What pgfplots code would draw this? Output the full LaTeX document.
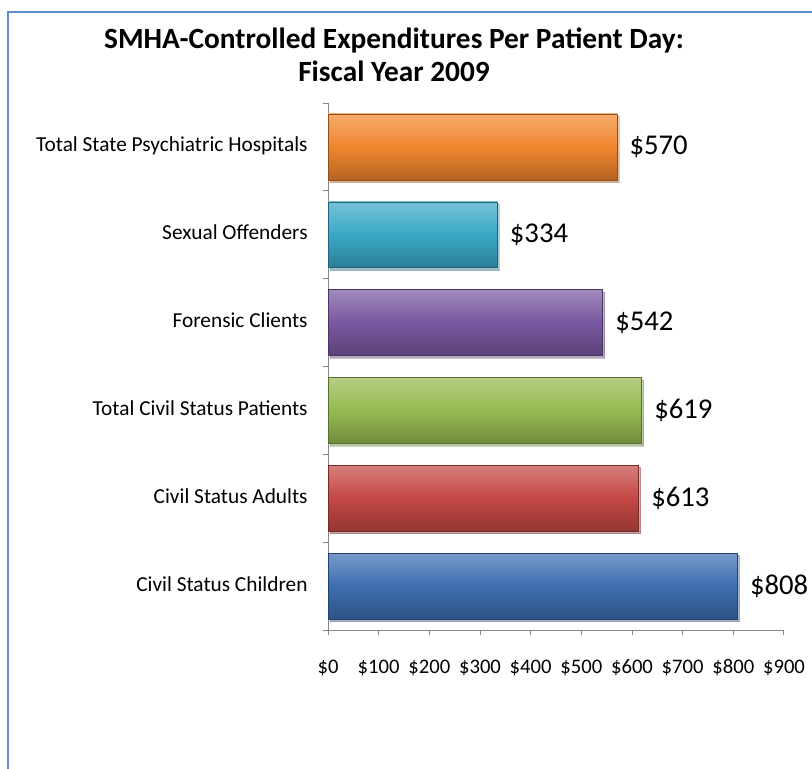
\documentclass[border=0pt]{standalone}
\usepackage{fontspec}
\setmainfont{Carlito}
\usepackage{pgfplots}
\pgfplotsset{compat=1.18}
\usetikzlibrary{shadows}

\definecolor{frameblue}{RGB}{95,140,205}
\definecolor{axgray}{RGB}{134,134,134}
\definecolor{cOrange}{RGB}{240,134,46}
\definecolor{cAqua}{RGB}{58,168,198}
\definecolor{cPurple}{RGB}{120,88,160}
\definecolor{cGreen}{RGB}{150,186,80}
\definecolor{cRed}{RGB}{196,72,68}
\definecolor{cBlue}{RGB}{62,110,178}

\pgfplotsset{bev/.style={top color=#1!70!white, bottom color=#1!75!black, middle color=#1,
  draw=#1!60!black, line width=0.4pt,
  drop shadow={opacity=0.3, shadow xshift=1.5pt, shadow yshift=-1.8pt}}}

\begin{document}
\begin{tikzpicture}
\useasboundingbox[fill=white] (0,0) rectangle (609pt,-576pt);
\begin{scope}
\clip (0,0) rectangle (609pt,-576pt);
\draw[frameblue, line width=1.5pt] (6pt,-600pt) -- (6pt,-9pt) -- (620pt,-9pt);
\end{scope}
\node[font=\fontsize{22}{24.75}\selectfont\bfseries, align=center] at (295.5pt,-41pt)
  {SMHA-Controlled Expenditures Per Patient Day:\\Fiscal Year 2009};
\begin{axis}[
  at={(246pt,-472.5pt)}, anchor=south west,
  scale only axis, width=342pt, height=395.25pt,
  xbar, bar width=0.75, bar shift=0pt,
  xmin=0, xmax=900, ymin=-0.5, ymax=5.5,
  clip=false,
  axis x line*=bottom, axis y line*=left,
  axis line style={axgray, line width=0.75pt},
  tick align=outside, major tick length=3.75pt, minor tick length=3.75pt,
  tick style={axgray, line width=0.75pt},
  typeset ticklabels with strut,
  xtick={0,100,...,900},
  xticklabels={\$0,\$100,\$200,\$300,\$400,\$500,\$600,\$700,\$800,\$900},
  ytick={0,...,5},
  yticklabels={Civil Status Children, Civil Status Adults, Total Civil Status Patients,
    Forensic Clients, Sexual Offenders, Total State Psychiatric Hospitals},
  minor ytick={-0.5,0.5,...,5.5},
  major y tick style={draw=none},
  xticklabel style={font=\fontsize{15.5}{18}\selectfont, yshift=-13pt},
  yticklabel style={font=\fontsize{16}{19}\selectfont, xshift=-8pt},
  point meta=x,
  nodes near coords={\$\pgfmathprintnumber{\pgfplotspointmeta}},
  nodes near coords style={font=\fontsize{21.5}{25}\selectfont, black, xshift=6pt,
    /pgf/number format/assume math mode=true},
]
\addplot[bev=cBlue] coordinates {(808,0)};
\addplot[bev=cRed] coordinates {(613,1)};
\addplot[bev=cGreen] coordinates {(619,2)};
\addplot[bev=cPurple] coordinates {(542,3)};
\addplot[bev=cAqua] coordinates {(334,4)};
\addplot[bev=cOrange] coordinates {(570,5)};
\end{axis}
\end{tikzpicture}
\end{document}
